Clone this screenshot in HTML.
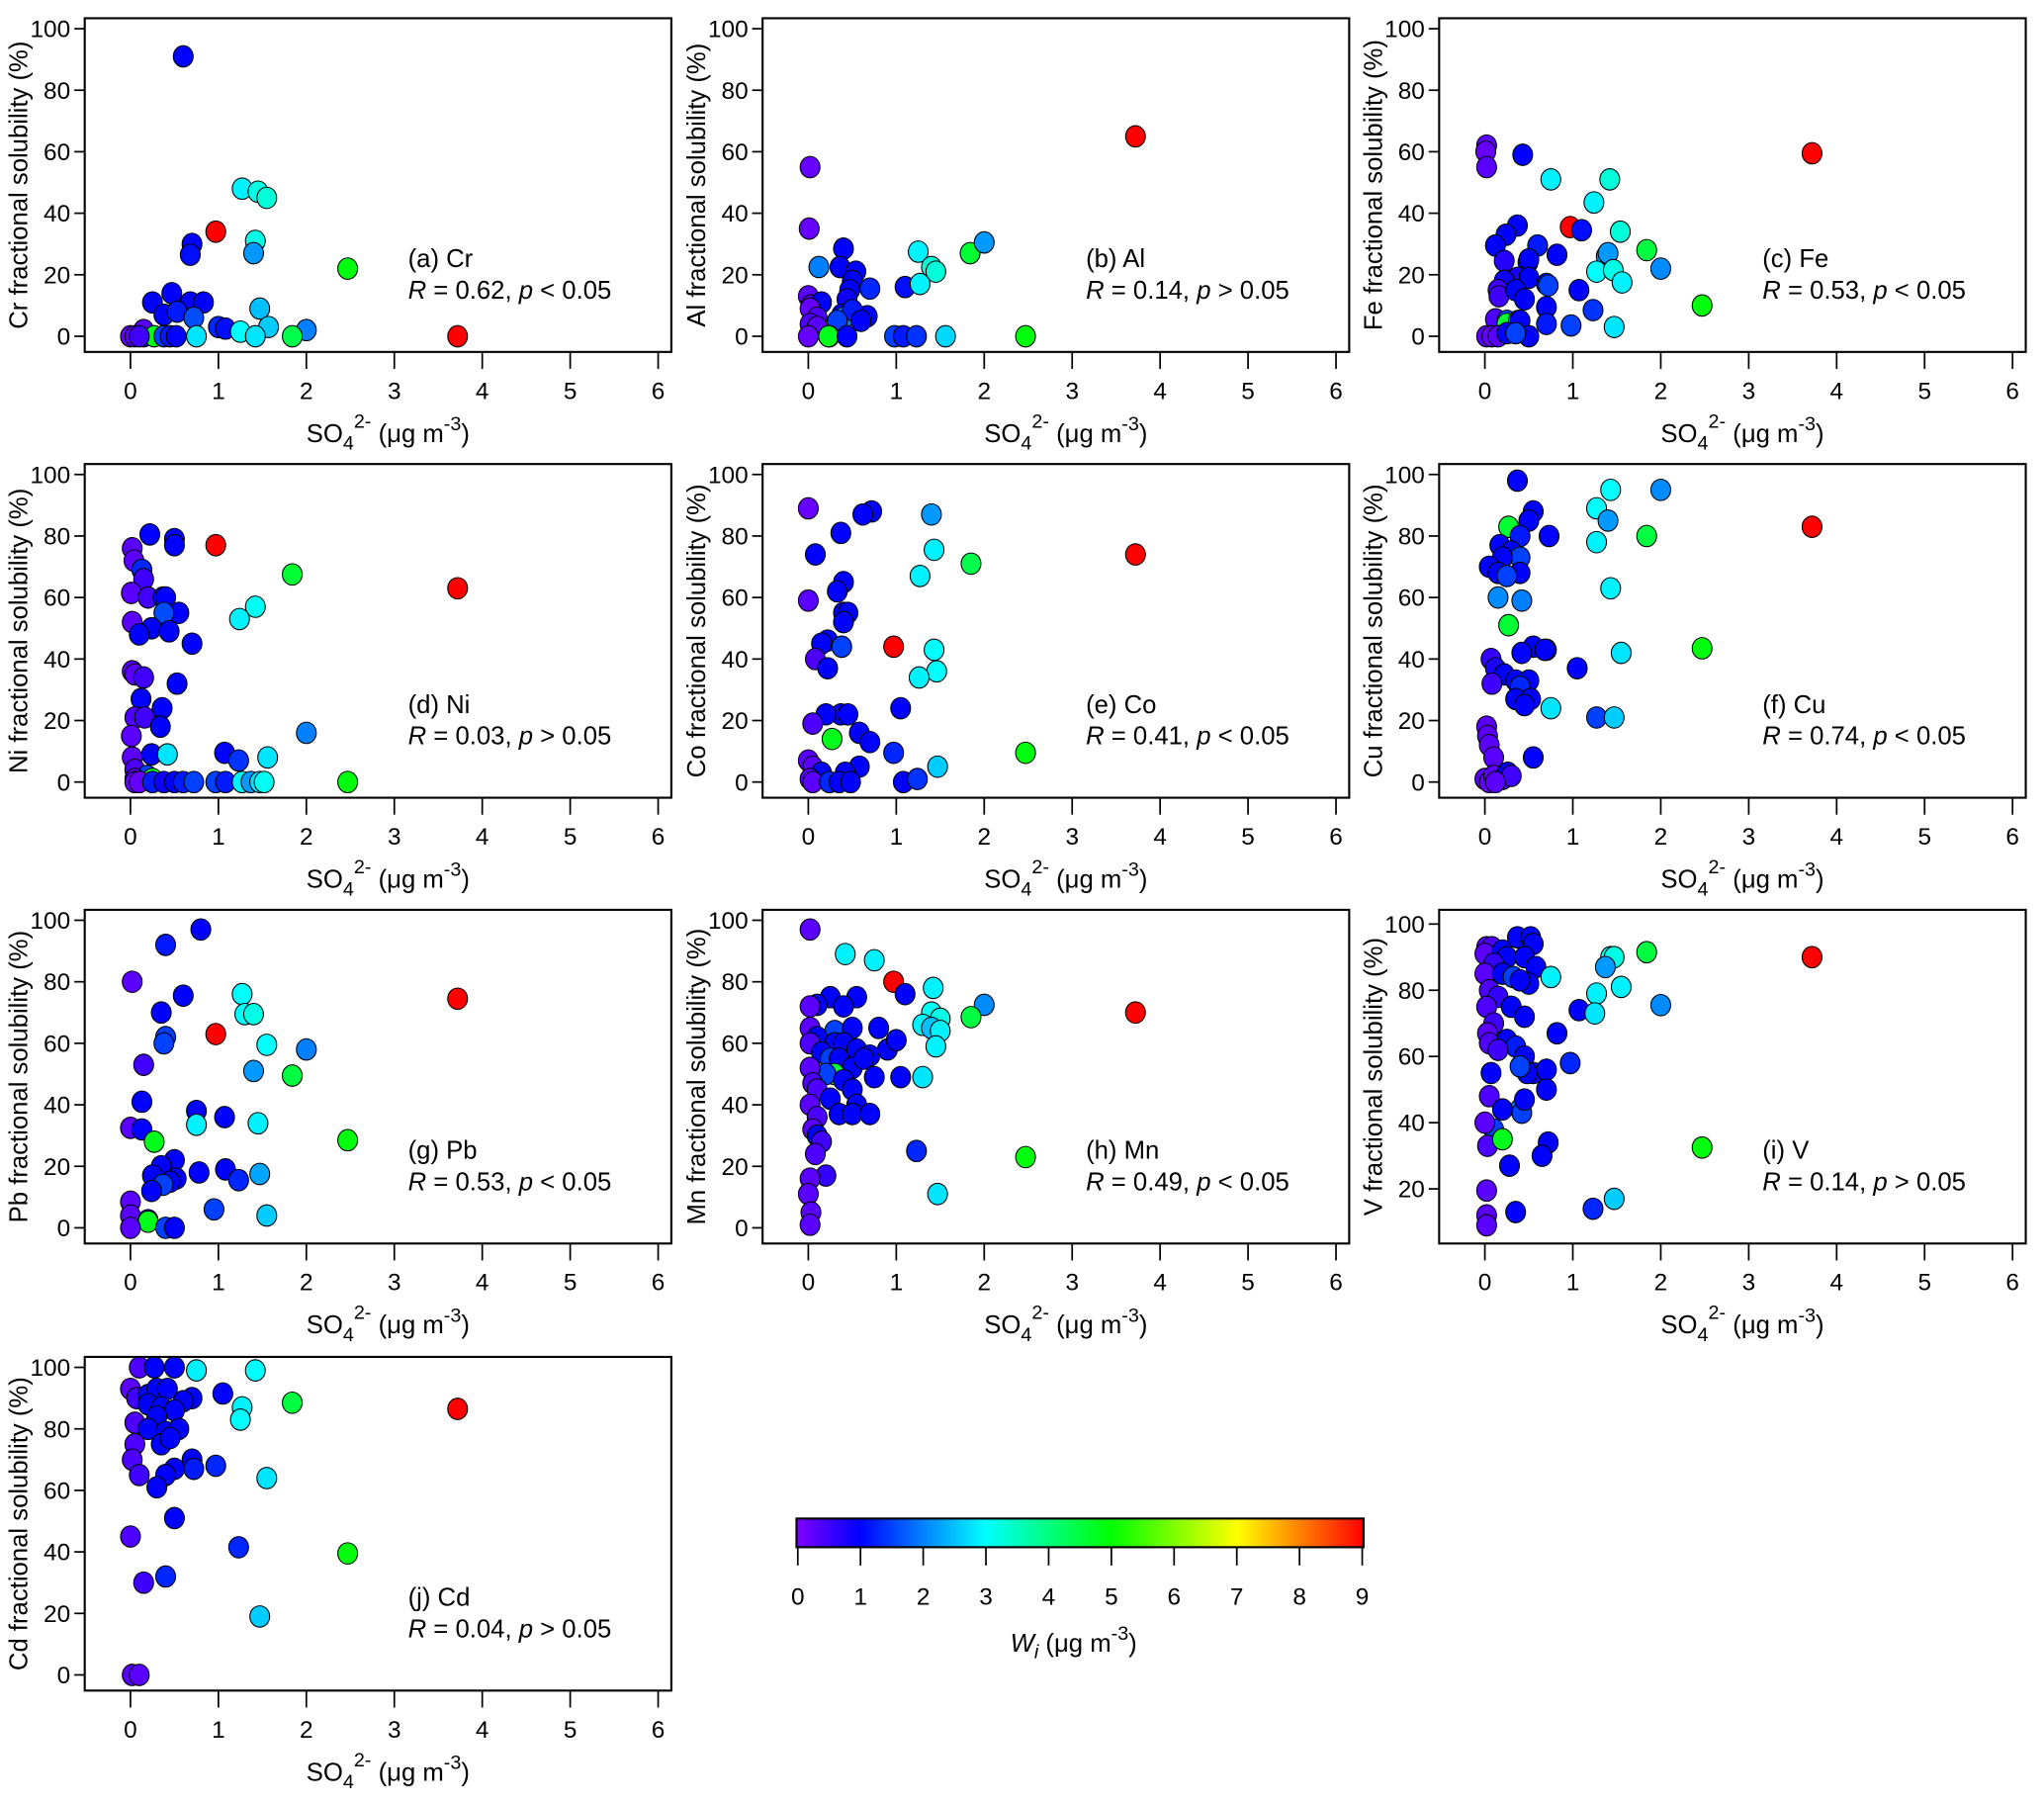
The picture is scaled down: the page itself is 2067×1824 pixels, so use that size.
<!DOCTYPE html>
<html><head><meta charset="utf-8"><style>
html,body{margin:0;padding:0;background:#fff}
svg{display:block;font-family:"Liberation Sans",Arial,sans-serif}
</style></head><body>
<svg id="fig" width="2067" height="1824" viewBox="0 0 1568 1384" preserveAspectRatio="none" xmlns="http://www.w3.org/2000/svg">
<rect x="0" y="0" width="1568" height="1384" fill="#fff"/>
</svg>
<script>
// ---- data: each panel x = SO4 (ug m-3), y = solubility (%), w = Wi (ug m-3)
const crX=[0.6,1.27,1.45,1.55,0.97,0.7,0.68,1.42,1.4,2.47,0.25,0.47,0.68,0.83,0.38,0.53,0.72,1.47,1.0,1.08,1.25,1.57,2.0,0.75,1.42,1.84,3.72,0,0.05,0.15,0.15,0.27,0.38,0.45,0.52,0.1];
const crY=[91,48,47,45,34,30,26.5,31,27,22,11,14,11,11,7,8,6,9,3,2.5,1.5,3,2,0,0,0,0,0,0,0,2,0,0,0,0,0];
const crW=[1,2.9,3.2,3.3,9,1,1.1,3.2,2.2,4.9,1,1,1,1,1,1.2,1.6,2.5,1.3,1.1,3,2.6,2,2.8,2.8,4.4,9,0.2,0.3,0.8,0.3,4.8,1.5,1.2,1,0.5];
const alX=[3.72,0.02,0.01,0.4,0.12,0.36,0.54,1.25,1.4,1.45,1.84,2.0,0.5,0.7,1.1,1.27,0.47,0.44,0,0.03,0.15,0.02,0.1,0.38,0.4,0.67,0.5,0.33,0.6,0.02,0.1,0,0.24,0.23,0.44,0.98,1.08,1.23,1.56,2.47];
const alY=[65,55,35,28.5,22.5,22.5,21,27.5,22.5,21,27,30.5,18,15.5,16,17,15,12,13,10,11,9,6,7,6,6.5,8.5,5,5,4,3,0,0,0,0,0,0,0,0,0];
const alW=[9,0.2,0.2,1,2,1,1,2.9,3.3,3.3,4.6,2.2,1,1.3,1.1,2.9,1,0.9,0.3,0.3,1,0.2,0.4,1,2,1,1.2,1.5,1,0.4,0.3,0.2,1.3,4.8,1,1.5,1.2,1.4,2.7,4.9];
const feX=[0.02,0.01,0.02,0.43,3.72,0.75,1.42,1.24,0.97,1.1,1.54,0.37,0.24,0.12,0.6,0.82,1.84,1.38,1.4,2.0,0.22,0.49,0.5,1.27,1.46,1.56,0.37,0.5,0.7,0.72,1.07,0.22,0.15,0.16,0.35,0.45,0.7,1.23,2.47,0.12,0.25,0.25,0.38,0.4,0.7,0.98,1.47,0.02,0.08,0.15,0.25,0.5,0.35];
const feY=[62,60,55,59,59.5,51,51,43.5,35.5,34.5,34,36,33,29.5,29.5,26.5,28,26,27,22,24.5,24,25,21,21.5,17.5,19,19,17,16.5,15,18,15,13,15,12,9.5,8.5,10,5.5,5,4,5,5,4,3.5,3,0,0,0,1,0,1];
const feW=[0.3,0.2,0.3,1,9,2.9,3.3,2.9,9,1.1,3.3,1,1,1,1.2,1,4.5,2.2,2.2,2.1,0.7,1,1,3,3.2,2.9,0.8,1,1,1.5,1,0.9,0.5,0.5,1,1,1,1.4,4.9,0.4,1.6,4.6,2.2,1,1.2,1.5,2.8,0.3,0.2,0.3,1,1,1.5];
const niX=[0.22,0.5,0.5,0.97,0.02,0.04,0.13,0.15,1.84,3.72,0.01,0.2,0.37,0.4,0.55,0.38,1.42,1.24,0.02,0.24,0.44,0.1,0.7,0.02,0.05,0.15,0.53,0.12,0.36,0.05,0.16,0.34,0.01,0.02,2.0,0.24,0.42,1.07,1.23,1.56,0.05,0.19,0.25,0.05,0.05,0.1,0.25,0.38,0.5,0.6,0.72,0.97,1.08,1.27,1.37,1.47,1.52,2.47];
const niY=[80.5,79,77,77,76,72,69,66,67.5,63,61.5,60,60,60,55,55,57,53,52,50,49,48,45,36,35,34,32,27,24,21,21,18,15,8,16,9,9,9.5,7,8,4,2,1,1,0,0,0,0,0,0,0,0,0,0,0,0,0,0];
const niW=[1,1,1,9,0.3,0.3,1.3,0.5,4.6,9,0.3,0.5,1,1,1,1.6,3.1,2.9,0.3,1,1,1,1,0.3,0.3,0.5,1,1,1,0.4,0.5,1,0.3,0.3,2,1,2.8,1,1.4,2.8,0.4,1.5,4.8,0.3,0.2,0.2,1.2,0.9,1,1.2,1.5,1.5,1.2,2.9,2.2,2.8,3.1,4.9];
const coX=[0,0.08,0.72,0.62,0.37,1.4,1.43,1.27,1.85,3.72,0.4,0.33,0,0.4,0.45,0.4,0.22,0.38,0.15,0.08,0.97,1.43,1.46,1.26,0.22,1.05,0.37,0.45,0.2,0.05,0.58,0.7,0.27,2.47,0.97,0,0.05,0.58,1.47,0.15,0.42,0.02,0.05,0.24,0.35,0.48,1.08,1.24];
const coY=[89,74,88,87,81,87,75.5,67,71,74,65,62,59,55,55,52,46,44,45,40,44,43,36,34,37,24,22,22,22,19,16,13,14,9.5,9.5,7,5,5,5,3,3,1,0,0,0,0,0,1];
const coW=[0.2,1,1,1,1,2.2,2.9,2.9,4.4,9,1,1,0.3,1,1,1,1,1.5,1,0.4,9,3,3,2.9,1,1,1,1,1,0.4,1,1,4.8,4.9,1.3,0.3,0.3,1,2.6,1,1,0.3,0.3,1.3,1,1,1,1.4];
const cuX=[0.37,1.43,2.0,1.27,0.55,0.5,1.4,3.72,0.27,0.4,0.73,1.84,1.27,0.17,0.3,0.4,0.2,0.05,0.15,0.4,0.25,1.43,0.15,0.42,0.27,0.55,0.7,0.68,0.42,0.07,1.55,2.47,0.12,1.05,0.22,0.35,0.5,0.4,0.08,0.75,0.35,0.52,0.45,1.27,1.47,0.02,0.03,0.05,0.1,0.55,0,0.05,0.1,0.2,0.26,0.3,0.12];
const cuY=[98,95,95,89,88,85,85,83,83,80,80,80,78,77,75,73,73,70,68,68,67,63,60,59,51,44,43,43,42,40,42,43.5,37,37,35,33,33,31,32,24,27,27,25,21,21,18,15,12,8,8,1,0,2,1,3,2,0];
const cuW=[1,3,2.1,3,1,1,2.2,9,4.6,1.2,1,4.5,2.9,1,1,1.5,1,1,1,1,1.5,2.9,2.1,2,4.6,1,1.2,1,1,0.6,2.8,4.9,0.8,1,1,1,1,1.3,0.5,2.8,1,1,1,1.5,2.6,0.3,0.3,0.3,0.3,1,0.3,0.2,0.3,0.3,1,0.5,0.3];
const pbX=[0.8,0.4,0.02,0.6,1.27,3.72,0.35,1.3,1.4,0.97,0.4,0.38,1.55,2.0,0.15,1.4,1.84,0.13,0.75,0,0.13,0.75,1.07,1.45,0.27,2.47,0.5,0.35,1.08,0.78,0.25,0.52,0.45,1.23,1.47,0.37,0.24,0,0,0.95,1.55,0.2,0.2,0.4,0.5,0];
const pbY=[97,92,80,75.5,76,74.5,70,69.5,69.5,63,62,60,59.5,58,53,51,49.5,41,38,32.5,32,33.5,36,34,28,28.5,22,20,19,18,17,16,15,15.5,17.5,14,12,8.5,4,6,4,2.5,2,0,0,0];
const pbW=[1,1.2,0.3,1,3,9,1,3,3.2,9,1.5,1.5,3,2,0.5,2.2,4.5,1,1,0.3,1,2.9,1,2.9,4.8,4.9,1,1,1,1,1,1,1,1.3,2.3,1.5,1,0.3,0.3,1.5,2.6,0.5,4.8,1.5,1,0.3];
const mnX=[0.02,0.42,0.75,0.97,1.42,3.72,1.1,2.0,0.55,0.25,0.4,0.1,0.02,1.4,1.5,1.85,1.3,1.4,1.5,0.02,0.8,0.3,0.5,0.1,0.02,0.3,0.4,0.55,0.7,0.9,1.0,1.45,0.15,0.25,0.35,0.5,0.63,0.3,0.2,0.02,0.05,0.4,0.75,1.05,1.3,0.1,0.5,0.25,0.02,0.55,0.35,0.5,0.7,0.1,0.05,0.1,0.15,1.23,0.08,2.47,0.2,0.02,0,1.47,0.03,0.02];
const mnY=[97,89,87,80,78,70,76,72.5,75,75,72,72.5,72,70,68,68.5,66,65,64,65,65,64,65,62,60,60,60,58,56,58,61,59,57,55,55,52,55,50,50,52,47,48,49,49,49,45,45,42,40,40,37,37,37,36,32,30,28,25,24,23,17,16,11,11,5,1];
const mnW=[0.3,2.9,2.9,9,2.9,9,1,2.1,1,1,1,1,0.3,3.1,3.2,4.5,2.9,2.5,2.9,0.3,1,1.5,1,1,0.4,1,1,1,1,1,1,2.9,1,1.5,1,1,1,4.5,1.5,0.3,0.4,1,1,1,2.8,0.4,1,1,0.3,1,1,1,1,0.4,0.3,1,0.5,1.3,0.4,4.9,0.6,0.3,0.3,2.8,0.3,0.3];
const vX=[0.02,0.08,0,0.2,0.37,0.52,0.55,0.25,0.45,1.84,3.72,1.43,1.47,1.37,0.58,0.1,0,0.2,0.32,0.5,0.75,0.4,1.55,1.27,0.05,0.15,0.3,0.02,1.07,1.25,2.0,0.45,0.1,0.03,0.05,0.82,0.25,0.35,0.15,0.45,0.55,0.48,0.4,0.97,0.7,0.07,0.05,0.4,0.42,0.45,0.7,0.2,0.1,0.72,0.65,0,0.03,0.2,2.47,0.28,0.02,1.47,1.23,0.35,0.02,0.02];
const vY=[93,93,91,92,96,96,94,90,90,91.5,90,90,90,87,87,88,85,85,84,82,84,83,81,79,80,78,75,75,74,73,75.5,72,70,67,64,67,65,63,62,60,55,55,57,58,56,55,48,44,43,47,50,44,38,34,30,40,33,35,32.5,27,19.5,17,14,13,12,9];
const vW=[0.3,0.4,0.3,1,1,1,1,1,1,4.5,9,3,3.2,2.2,1,0.6,0.3,1,1.5,1,2.9,1,2.9,2.9,0.4,0.6,1,0.4,1,2.8,2.1,1,0.5,0.3,0.4,1,1,1.2,0.5,1,1,1,1.5,1.3,1,1,0.4,2,1.5,1,1,1,1.5,1,1,0.3,0.4,4.8,4.9,1,0.3,2.6,1.3,1,0.3,0.3];
const cdX=[0.1,0.27,0.5,0.75,1.42,0,0.07,0.2,0.3,0.42,1.05,0.7,0.6,1.84,3.72,1.27,1.25,0.2,0.35,0.5,0.05,0.3,0.2,0.4,0.55,0.05,0.35,0.45,0.7,0.02,0.1,0.5,0.4,0.3,0.72,0.97,1.55,0.5,0,1.23,2.47,0.4,0.15,1.47,0.02,0.1];
const cdY=[100,100,100,99,99,93,90,91,93,93,91.5,90,89,88.5,86.5,87,83,88,87,86,82,84,80,79,80,75,75,77,70,70,65,67,65,61,67,68,64,51,45,41.5,39.5,32,30,19,0,0];
const cdW=[0.4,1,1,2.9,3,0.3,0.5,1,1,1,1,1,1,4.5,9,2.9,3,1,1,1,0.4,1,1,1,1,0.4,1,1,1,0.4,0.5,1,1,1,1.2,1.3,2.8,1,0.4,1.3,4.9,1.3,0.5,2.6,0.3,0.3];
const panelLabels=["(a) Cr","(b) Al","(c) Fe","(d) Ni","(e) Co","(f) Cu","(g) Pb","(h) Mn","(i) V","(j) Cd"];
const panelElems=["Cr","Al","Fe","Ni","Co","Cu","Pb","Mn","V","Cd"];
const rValues=["0.62","0.14","0.53","0.03","0.41","0.74","0.53","0.49","0.14","0.04"];
const pSigns=["<",">","<",">","<","<","<","<",">",">"];
const xTicks=[0,1,2,3,4,5,6];
const yTicksStd=[0,20,40,60,80,100];
const yTicksV=[20,40,60,80,100];
const cbTicks=[0,1,2,3,4,5,6,7,8,9];

const NS="http://www.w3.org/2000/svg";
const svg=document.getElementById('fig');
function mk(tag,attrs,parent){const e=document.createElementNS(NS,tag);for(const k in attrs)e.setAttribute(k,attrs[k]);(parent||svg).appendChild(e);return e;}
const stops=[[0,[128,0,255]],[1,[0,0,255]],[3,[0,255,255]],[5,[0,255,0]],[7,[255,255,0]],[9,[255,0,0]]];
function cmap(w){w=Math.max(0,Math.min(9,w));for(let i=0;i<stops.length-1;i++){const a=stops[i],b=stops[i+1];if(w<=b[0]){const t=(w-a[0])/(b[0]-a[0]);const c=a[1].map((v,j)=>Math.round(v+(b[1][j]-v)*t));return `rgb(${c[0]},${c[1]},${c[2]})`;}}return 'rgb(255,0,0)';}

const data=[[crX,crY,crW],[alX,alY,alW],[feX,feY,feW],[niX,niY,niW],[coX,coY,coW],[cuX,cuY,cuW],[pbX,pbY,pbW],[mnX,mnY,mnW],[vX,vY,vW],[cdX,cdY,cdW]];
const colL=[65,585,1104], rowT=[14,356,698,1041], FW=450, FH=256;

data.forEach((d,i)=>{
  const L=colL[i%3], T=rowT[Math.floor(i/3)];
  const isV=(i===8);
  const xMin=-0.52,xMax=6.15;
  const yMin=isV?3.5:-5.1, yMax=isV?104.3:103.4;
  const sx=v=>L+(v-xMin)/(xMax-xMin)*FW;
  const sy=v=>T+FH-(v-yMin)/(yMax-yMin)*FH;
  const g=mk('g',{});
  
  
  const pg=mk('g',{},g);
  
  
  for(let k=0;k<d[0].length;k++){
    const c=mk('ellipse',{cx:sx(d[0][k]),cy:sy(d[1][k]),rx:7.6,ry:8.2,fill:cmap(d[2][k]),stroke:'#000','stroke-width':0.8},pg);
    
    
  }
  const fr=mk('rect',{x:L,y:T,width:FW,height:FH,fill:'none',stroke:'#000','stroke-width':1.6},g);
  
  
  const yt=isV?yTicksV:yTicksStd;
  yt.forEach(v=>{
    mk('line',{x1:L-8,x2:L,y1:sy(v),y2:sy(v),stroke:'#000','stroke-width':1.3},g);
    const t=mk('text',{x:L-11,y:sy(v)+6.5,'text-anchor':'end','font-size':18.5},g);
    t.textContent=v;
    
    
  });
  xTicks.forEach(v=>{
    mk('line',{x1:sx(v),x2:sx(v),y1:T+FH,y2:T+FH+13,stroke:'#000','stroke-width':1.3},g);
    const t=mk('text',{x:sx(v),y:T+FH+36,'text-anchor':'middle','font-size':18.5},g);
    t.textContent=v;
    
    
  });
  const cy=T+FH/2;
  const yTitle=mk('text',{x:0,y:0,'text-anchor':'middle','font-size':19.5,transform:`translate(${L-44},${cy}) rotate(-90)`},g);
  yTitle.textContent=panelElems[i]+' fractional solubility (%)';
  
  
  const xt=mk('text',{x:L+170,y:T+FH+69,'font-size':19.5},g);
  
  
  xt.innerHTML='SO<tspan dy="6" font-size="15">4</tspan><tspan dy="-17" font-size="15">2-</tspan><tspan dy="11"> (μg m</tspan><tspan dy="-9" font-size="15">-3</tspan><tspan dy="9">)</tspan>';
  const a1=mk('text',{x:L+248,y:T+191,'font-size':19.5},g);
  a1.textContent=panelLabels[i];
  
  
  const a2=mk('text',{x:L+248,y:T+215,'font-size':19.5},g);
  a2.innerHTML=`<tspan font-style="italic">R</tspan> = ${rValues[i]}, <tspan font-style="italic">p</tspan> ${pSigns[i]==='<'?'&lt;':'&gt;'} 0.05`;
  
  
});

const cb=mk('g',{});


const defs=mk('defs',{},cb);
const lg=mk('linearGradient',{id:'rb',x1:'0',x2:'1',y1:'0',y2:'0'},defs);
stops.forEach(s=>mk('stop',{offset:s[0]/9,'stop-color':`rgb(${s[1].join(',')})`},lg));
const cbL=612,cbR=1045;
mk('rect',{x:cbL-1,y:1165,width:cbR-cbL+2,height:22,fill:'url(#rb)',stroke:'#000','stroke-width':1.6},cb);
const cx=v=>cbL+v/9*(cbR-cbL);
cbTicks.forEach(v=>{
  mk('line',{x1:cx(v),x2:cx(v),y1:1187,y2:1201,stroke:'#000','stroke-width':1.3},cb);
  const t=mk('text',{x:cx(v),y:1231,'text-anchor':'middle','font-size':18.5},cb);
  t.textContent=v;
  
  
});
const ct=mk('text',{x:775,y:1267,'font-size':19.5},cb);
ct.innerHTML='<tspan font-style="italic">W</tspan><tspan font-style="italic" dy="5" font-size="15">i</tspan><tspan dy="-5"> (μg m</tspan><tspan dy="-9" font-size="15">-3</tspan><tspan dy="9">)</tspan>';


</script>
</body></html>
